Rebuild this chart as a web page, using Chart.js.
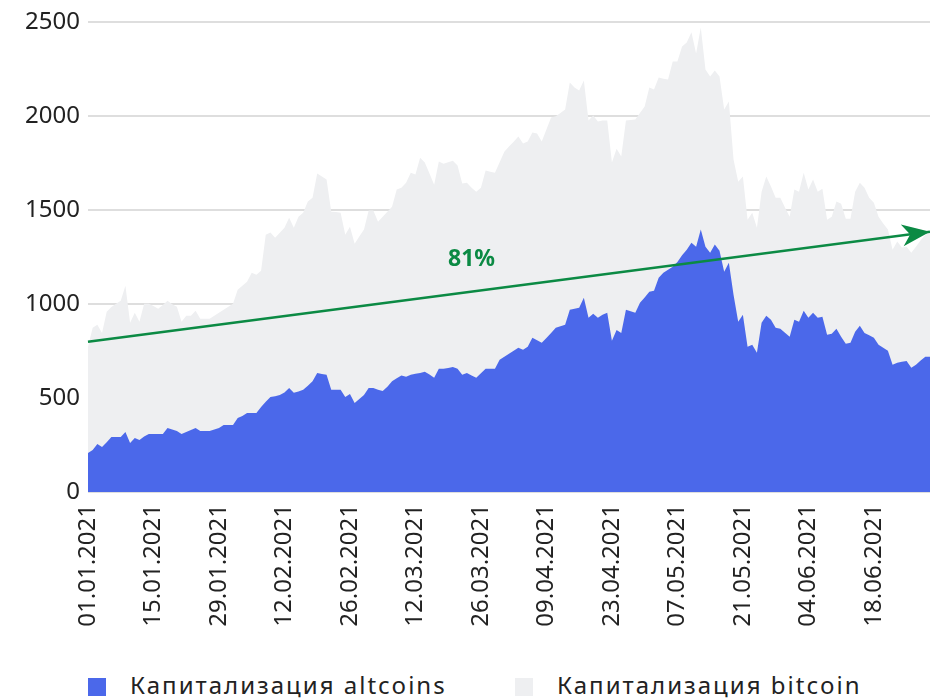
<!DOCTYPE html>
<html>
<head>
<meta charset="utf-8">
<script src="https://cdn.jsdelivr.net/npm/chart.js@4.4.1/dist/chart.umd.min.js"></script>
<style>
    body { margin: 0; background: #fff; font-family: "Noto Sans", sans-serif; }
    #wrap { position: relative; width: 930px; height: 640px; }
    .leg { position: absolute; top: 670px; height: 30px; line-height: 30px; font-size: 24px; letter-spacing: 2px; color: #222; white-space: nowrap; }
    .leg i { position: absolute; left: 0; top: 8px; width: 18px; height: 18px; }
    .leg span { position: absolute; left: 42px; top: 0; }
</style>
</head>
<body>
<div id="wrap"><canvas id="chart"></canvas></div>
<div class="leg" style="left:88px"><i style="background:#4b68ea"></i><span>Капитализация altcoins</span></div>
<div class="leg" style="left:515px"><i style="background:#eeeff1"></i><span>Капитализация bitcoin</span></div>
<script>
// market cap, bn $, daily 01.01.2021 - 30.06.2021
const altcoins = [
    208, 224, 256, 240, 265, 293, 293, 293, 320, 261, 288, 277, 295, 309, 309, 309, 309, 341, 333, 325,
    309, 320, 330, 341, 325, 325, 325, 333, 341, 357, 357, 357, 394, 405, 421, 421, 421, 453, 480, 506,
    510, 517, 530, 554, 528, 535, 544, 565, 590, 634, 628, 624, 544, 544, 544, 506, 522, 474, 495, 517,
    554, 554, 545, 538, 560, 590, 605, 620, 613, 624, 630, 634, 640, 625, 608, 656, 656, 660, 666, 656,
    624, 634, 620, 608, 632, 656, 656, 656, 704, 720, 736, 752, 768, 757, 773, 821, 808, 794, 820, 847,
    874, 882, 890, 970, 975, 981, 1034, 927, 949, 927, 943, 954, 805, 863, 847, 970, 962, 954, 1007, 1035,
    1066, 1071, 1141, 1167, 1183, 1199, 1225, 1260, 1290, 1327, 1306, 1397, 1306, 1274, 1317, 1285, 1173, 1221, 1050, 906,
    943, 773, 784, 741, 901, 938, 917, 874, 869, 848, 826, 917, 906, 965, 927, 954, 927, 933, 837, 842,
    869, 826, 789, 794, 853, 885, 847, 835, 821, 784, 768, 752, 677, 688, 693, 698, 661, 677, 700, 720,
    720
];
// total market cap (top of the grey area)
const totalCap = [
    773, 874, 890, 847, 959, 985, 1002, 1018, 1098, 901, 954, 906, 1002, 1002, 990, 975, 995, 1018, 1000, 986,
    906, 938, 938, 965, 922, 922, 922, 938, 954, 970, 986, 1002, 1077, 1098, 1119, 1167, 1157, 1178, 1370, 1381,
    1354, 1380, 1407, 1460, 1407, 1466, 1487, 1546, 1567, 1695, 1680, 1663, 1492, 1490, 1487, 1370, 1412, 1322, 1360, 1397,
    1498, 1498, 1439, 1465, 1492, 1519, 1610, 1620, 1647, 1700, 1690, 1780, 1754, 1695, 1636, 1759, 1748, 1756, 1764, 1738,
    1642, 1647, 1620, 1599, 1620, 1711, 1705, 1700, 1755, 1812, 1839, 1865, 1892, 1855, 1866, 1914, 1908, 1866, 1930, 1994,
    2000, 2018, 2036, 2180, 2153, 2137, 2191, 1978, 2004, 1972, 1978, 1978, 1754, 1828, 1786, 1978, 1980, 1983, 2018, 2052,
    2153, 2143, 2207, 2200, 2196, 2292, 2292, 2372, 2393, 2447, 2335, 2473, 2249, 2212, 2244, 2212, 2036, 2079, 1770, 1652,
    1679, 1450, 1487, 1407, 1599, 1679, 1626, 1567, 1567, 1515, 1466, 1610, 1599, 1700, 1610, 1663, 1599, 1615, 1450, 1466,
    1546, 1535, 1455, 1455, 1599, 1647, 1620, 1567, 1540, 1466, 1430, 1397, 1290, 1333, 1301, 1306, 1274, 1306, 1340, 1370,
    1381
];
const trendStart = 800;
const trendEnd = 1385;
const trendLabel = '81%';
const yTicks = [0, 500, 1000, 1500, 2000, 2500];

const dates = [];
for (let i = 0; i < altcoins.length; i++) {
    const d = new Date(Date.UTC(2021, 0, 1 + i));
    const dd = String(d.getUTCDate()).padStart(2, '0');
    const mm = String(d.getUTCMonth() + 1).padStart(2, '0');
    dates.push(dd + '.' + mm + '.' + d.getUTCFullYear());
}
const bitcoin = totalCap.map((t, i) => t - altcoins[i]);

const green = '#0b8a44';

const arrowPlugin = {
    id: 'arrow',
    afterDatasetsDraw(chart) {
        const pts = chart.getDatasetMeta(0).data;
        const a = pts[0], b = pts[pts.length - 1];
        const ctx = chart.ctx;
        const ang = Math.atan2(b.y - a.y, b.x - a.x);
        ctx.save();
        ctx.translate(b.x, b.y);
        ctx.rotate(ang);
        ctx.fillStyle = green;
        ctx.beginPath();
        ctx.moveTo(0, 0);
        ctx.lineTo(-28, -11);
        ctx.lineTo(-20, 0);
        ctx.lineTo(-28, 11);
        ctx.closePath();
        ctx.fill();
        ctx.restore();

        const x = chart.scales.x.getPixelForValue(82);
        const y = chart.scales.y.getPixelForValue(1240);
        ctx.save();
        ctx.font = 'bold 23px "Noto Sans"';
        ctx.fillStyle = green;
        ctx.textAlign = 'center';
        ctx.textBaseline = 'middle';
        ctx.fillText(trendLabel, x, y);
        ctx.restore();
    }
};

const trendData = dates.map((_, i) => i === 0 ? trendStart : (i === dates.length - 1 ? trendEnd : null));

new Chart(document.getElementById('chart'), {
    type: 'line',
    data: {
        labels: dates,
        datasets: [{
            label: 'trend',
            data: trendData,
            stack: 'trend',
            spanGaps: true,
            borderColor: green,
            borderWidth: 2.5,
            pointRadius: 0,
            fill: false
        }, {
            label: 'Капитализация altcoins',
            data: altcoins,
            stack: 'cap',
            borderWidth: 0,
            pointRadius: 0,
            backgroundColor: '#4b68ea',
            fill: 'origin'
        }, {
            label: 'Капитализация bitcoin',
            data: bitcoin,
            stack: 'cap',
            borderWidth: 0,
            pointRadius: 0,
            backgroundColor: '#eeeff1',
            fill: 'origin'
        }]
    },
    options: {
        responsive: true,
        maintainAspectRatio: false,
        animation: false,
        layout: { padding: { top: 12, right: 0, left: 0, bottom: 0 } },
        plugins: { legend: { display: false }, tooltip: { enabled: false } },
        scales: {
            x: {
                stacked: true,
                grid: { display: false, drawTicks: false },
                border: { display: false },
                ticks: {
                    autoSkip: false,
                    maxRotation: 90,
                    minRotation: 90,
                    padding: 12,
                    color: '#222',
                    font: { family: 'Noto Sans', size: 24 },
                    callback: function (val, idx) {
                        return idx % 14 === 0 ? this.getLabelForValue(val) : null;
                    }
                },
                afterFit: (s) => { s.height = 148; }
            },
            y: {
                stacked: true,
                min: 0,
                max: 2500,
                afterBuildTicks: (s) => { s.ticks = yTicks.map(v => ({ value: v })); },
                grid: { color: '#dedede', lineWidth: 2, drawTicks: false },
                border: { display: false },
                ticks: {
                    padding: 8,
                    color: '#222',
                    font: { family: 'Noto Sans', size: 24 },
                    callback: (v) => String(v)
                },
                afterFit: (s) => { s.width = 88; }
            }
        }
    },
    plugins: [arrowPlugin]
});
</script>
</body>
</html>
